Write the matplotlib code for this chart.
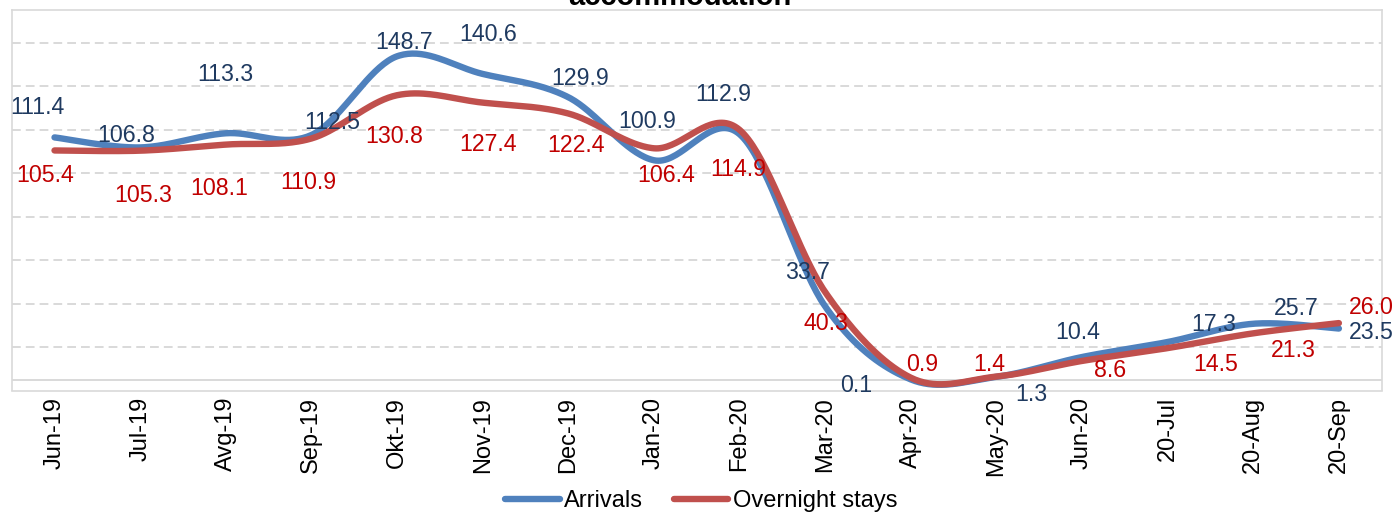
import numpy as np
import matplotlib
matplotlib.use('Agg')
import matplotlib.pyplot as plt

plt.rcParams['font.family'] = ['Liberation Sans', 'DejaVu Sans']

categories = ['Jun-19', 'Jul-19', 'Avg-19', 'Sep-19', 'Okt-19', 'Nov-19', 'Dec-19',
              'Jan-20', 'Feb-20', 'Mar-20', 'Apr-20', 'May-20', 'Jun-20',
              '20-Jul', '20-Aug', '20-Sep']
arrivals = [111.4, 106.8, 113.3, 112.5, 148.7, 140.6, 129.9, 100.9, 112.9,
            33.7, 0.1, 1.3, 10.4, 17.3, 25.7, 23.5]
overnight = [105.4, 105.3, 108.1, 110.9, 130.8, 127.4, 122.4, 106.4, 114.9,
             40.3, 0.9, 1.4, 8.6, 14.5, 21.3, 26.0]
series_names = ['Arrivals', 'Overnight stays']
title_text = 'accommodation'

# label centre offsets from the point, in pixels (dx right, dy down)
arr_off = [(-17, -32), (-14, -14), (0, -61), (21, -14), (7, -15.5), (5.5, -41),
           (11.5, -20.4), (-7, -41), (-16, -41), (-18, -36), (-55, 4), (35, 16),
           (-4, -26), (46, -19), (43, -17), (32, 2)]
ovn_off = [(-9, 23.6), (3, 43.4), (-7, 42), (-3.5, 42), (-2.5, 39), (5.5, 40),
           (8, 30), (12, 25), (-1, 37.6), (1, 30), (11, -15), (-7, -14),
           (28, 8), (48, 15), (40, 15), (32, -17)]

W, H, DPI = 1395, 513, 100
BLUE, RED = '#4F81BD', '#C0504D'
BLUE_TXT, RED_TXT = '#1F3A60', '#C00000'
GRID = '#D9D9D9'
FS = 16.7


def smooth(yv, n=40):
    y = np.asarray(yv, float)
    x = np.arange(len(y), dtype=float)
    P = np.column_stack([x, y])
    m = len(P)
    out = []
    t = np.linspace(0, 1, n)[:, None]
    for i in range(m - 1):
        p0 = P[i - 1] if i > 0 else P[i]
        p1, p2 = P[i], P[i + 1]
        p3 = P[i + 2] if i + 2 < m else P[i + 1]
        c1 = p1 + (p2 - p0) / 6.0
        c2 = p2 - (p3 - p1) / 6.0
        seg = ((1 - t) ** 3) * p1 + 3 * ((1 - t) ** 2) * t * c1 + 3 * (1 - t) * t ** 2 * c2 + t ** 3 * p2
        out.append(seg if i == 0 else seg[1:])
    s = np.vstack(out)
    return s[:, 0], s[:, 1]


fig = plt.figure(figsize=(W / DPI, H / DPI), dpi=DPI)
left, right, top, bottom = 11.7, 1381.7, 10, 390.5
ax = fig.add_axes([left / W, 1 - bottom / H, (right - left) / W, (bottom - top) / H])

ax.set_xlim(-0.5, len(categories) - 0.5)
ax.set_ylim(-5, 170)

ax.set_yticks(np.arange(15, 170, 20))
ax.yaxis.grid(True, color=GRID, lw=1.4, linestyle=(0, (4.5, 2.6)))
ax.tick_params(axis='y', length=0, labelleft=False)
ax.axhline(0, color=GRID, lw=1.4, zorder=1)
for sp in ax.spines.values():
    sp.set_color(GRID)
    sp.set_linewidth(1.2)

ax.set_xticks(range(len(categories)))
ax.set_xticklabels(categories, rotation=90, fontsize=17, color='black')
ax.tick_params(axis='x', length=0, pad=4.5)

xa, ya = smooth(arrivals)
xo, yo = smooth(overnight)
l1, = ax.plot(xa, ya, color=BLUE, lw=4.6, solid_capstyle='round', zorder=3)
l2, = ax.plot(xo, yo, color=RED, lw=4.6, solid_capstyle='round', zorder=4)

CAP = 0.358 * FS * DPI / 72.0  # half of digit height in px (baseline shift)
for vals, offs, col in ((arrivals, arr_off, BLUE_TXT), (overnight, ovn_off, RED_TXT)):
    for i, (v, (dx, dy)) in enumerate(zip(vals, offs)):
        ax.annotate(f'{v:.1f}', xy=(i, v), xytext=(dx * 72 / DPI, -(dy + CAP) * 72 / DPI),
                    textcoords='offset points', ha='center', va='baseline',
                    fontsize=FS, color=col, zorder=5, annotation_clip=False)

fig.text(680 / W, 1 - 5 / H, title_text, ha='center', va='baseline',
         fontsize=21, fontweight='bold', color='black')

fig.legend(handles=[l1, l2], labels=series_names, loc='center',
           bbox_to_anchor=(701.5 / W, 1 - 501 / H), ncol=2, frameon=False,
           fontsize=17, handlelength=2.3, handletextpad=0.2, columnspacing=1.3,
           borderpad=0, borderaxespad=0)

fig.savefig('out.png', dpi=DPI)
